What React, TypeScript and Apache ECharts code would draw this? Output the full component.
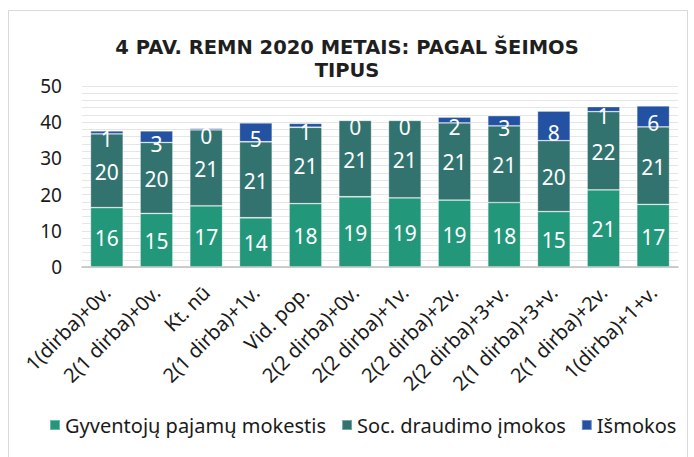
import React, { useEffect, useRef } from "react";
import * as echarts from "echarts";

const categories = [
  "1(dirba)+0v.",
  "2(1 dirba)+0v.",
  "Kt. nū",
  "2(1 dirba)+1v.",
  "Vid. pop.",
  "2(2 dirba)+0v.",
  "2(2 dirba)+1v.",
  "2(2 dirba)+2v.",
  "2(2 dirba)+3+v.",
  "2(1 dirba)+3+v.",
  "2(1 dirba)+2v.",
  "1(dirba)+1+v.",
];
const gpm = [16.4, 14.8, 16.9, 13.6, 17.5, 19.4, 19.1, 18.5, 17.8, 15.3, 21.3, 17.3];
const soc = [20.4, 19.6, 21.0, 21.0, 21.1, 21.1, 21.4, 21.3, 21.2, 19.6, 21.6, 21.4];
const ism = [0.8, 3.2, 0.4, 5.2, 1.1, 0.1, 0.2, 1.6, 2.8, 8.2, 1.4, 5.8];
const seriesNames = ["Gyventojų pajamų mokestis", "Soc. draudimo įmokos", "Išmokos"];
const colors = ["#22977A", "#32736F", "#2352A3"];
const titleText = "4 PAV. REMN 2020 METAIS: PAGAL ŠEIMOS\nTIPUS";

const FONT = "Noto Sans";

export default function App() {
  const ref = useRef<HTMLDivElement>(null);
  useEffect(() => {
    if (!ref.current) return;
    const chart = echarts.init(ref.current, undefined, { renderer: "svg" });
    const data = [gpm, soc, ism];
    const labelDy = [1, 1, 7];
    chart.setOption({
      animation: false,
      backgroundColor: "#ffffff",
      title: {
        text: titleText,
        left: "center",
        top: 31,
        textStyle: {
          fontFamily: "DejaVu Sans",
          fontWeight: "bold",
          fontSize: 19.5,
          lineHeight: 23,
          color: "#1f1f1f",
        },
      },
      graphic: [
        {
          type: "rect",
          shape: { x: 8.5, y: 10.5, width: 679, height: 470 },
          style: { fill: "none", stroke: "#d9d9d9", lineWidth: 1 },
          silent: true,
        },
      ],
      legend: {
        top: 410,
        left: 44,
        width: 660,
        itemWidth: 10,
        itemHeight: 10,
        itemGap: 15,
        icon: "rect",
        textStyle: { fontFamily: FONT, fontSize: 20, color: "#1a1a1a" },
        data: seriesNames,
      },
      grid: { left: 82, right: 16, top: 86, bottom: 190, containLabel: false },
      xAxis: {
        type: "category",
        data: categories,
        axisLine: { lineStyle: { color: "#bfbfbf", width: 1.5 } },
        axisTick: { show: false },
        axisLabel: {
          rotate: 45,
          interval: 0,
          fontFamily: FONT,
          fontSize: 20,
          color: "#1a1a1a",
          margin: 22,
        },
      },
      yAxis: {
        type: "value",
        min: 0,
        max: 50,
        interval: 10,
        axisLine: { show: false },
        axisTick: { show: false },
        axisLabel: { fontFamily: FONT, fontSize: 19, color: "#1a1a1a", margin: 20 },
        splitLine: { lineStyle: { color: "#e6e6e6", width: 1 } },
        minorTick: { show: false, splitNumber: 5 },
        minorSplitLine: { show: true, lineStyle: { color: "#e6e6e6", width: 1 } },
      },
      series: seriesNames.map((name, i) => ({
        name,
        type: "bar",
        stack: "total",
        data: data[i],
        barCategoryGap: "34%",
        itemStyle: { color: colors[i], borderColor: "rgba(255,255,255,0.35)", borderWidth: 0.8 },
        label: {
          show: true,
          position: "inside",
          formatter: (p: any) => String(Math.round(p.value)),
          fontFamily: FONT,
          fontSize: 21,
          color: "#ffffff",
        },
        labelLayout: { dy: labelDy[i], hideOverlap: false },
      })),
    });
    return () => chart.dispose();
  }, []);
  return (
    <div
      ref={ref}
      style={{ position: "absolute", left: 0, top: 0, width: 694, height: 457 }}
    />
  );
}
